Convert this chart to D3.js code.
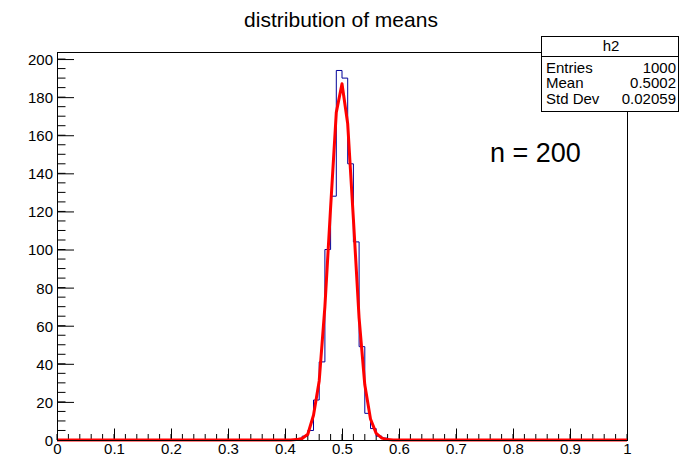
<!doctype html>
<html lang="en">
<head>
    <title>distribution of means</title>
    <script src="https://d3js.org/d3.v7.min.js"></script>
    <style type="text/css">
        body { margin: 0; background: #fff; }
        text { font-family: "Liberation Sans", Arial, sans-serif; }
    </style>
</head>
<body>
</body>
<script type="text/javascript">

    var width  = 680;
    var height = 457;

    // histogram h2: bin low edges (width 0.01) and counts, all other bins empty
    var binStarts = [0.43, 0.44, 0.45, 0.46, 0.47, 0.48, 0.49, 0.50, 0.51, 0.52, 0.53, 0.54, 0.55, 0.56, 0.57];
    var binCounts = [2, 5, 21, 41, 100, 128, 194, 190, 145, 104, 49, 14, 6, 2, 1];
    var binWidth = 0.01;

    // gaus fit curve
    var fitX = [0, 0.41, 0.42, 0.43, 0.44, 0.45, 0.46, 0.47, 0.48, 0.49, 0.50, 0.51, 0.52, 0.53, 0.54, 0.55, 0.56, 0.57, 0.58, 0.59, 1];
    var fitY = [0, 0, 0.2, 0.8, 3, 13, 31, 70, 122, 172, 187, 166, 116, 64, 29, 11, 3.5, 1, 0.2, 0, 0];

    var xTicks = [0, 0.1, 0.2, 0.3, 0.4, 0.5, 0.6, 0.7, 0.8, 0.9, 1];
    var yTicks = [0, 20, 40, 60, 80, 100, 120, 140, 160, 180, 200];

    var statsLabels = ["Entries", "Mean", "Std Dev"];
    var statsValues = ["1000", "0.5002", "0.02059"];

    var frame = {left: 57, right: 627, top: 52, bottom: 440};

    var x = d3.scaleLinear().domain([0, 1]).range([frame.left, frame.right]);
    var y = d3.scaleLinear().domain([0, 203.7]).range([frame.bottom, frame.top]);

    var svg = d3.select("body")
        .append("svg")
        .attr("width", width)
        .attr("height", height);

    // minor ticks
    var minorX = d3.range(0, 1.0001, 0.02);
    var minorY = d3.range(0, 201, 5);

    svg.append("g")
        .selectAll("line")
        .data(minorX)
        .enter()
        .append("line")
        .attr("x1", d => x(d)).attr("x2", d => x(d))
        .attr("y1", frame.bottom).attr("y2", frame.bottom - 6)
        .attr("stroke", "#000");

    svg.append("g")
        .selectAll("line")
        .data(minorY)
        .enter()
        .append("line")
        .attr("y1", d => y(d)).attr("y2", d => y(d))
        .attr("x1", frame.left).attr("x2", frame.left + 8.5)
        .attr("stroke", "#000");

    var xAxis = svg.append("g")
        .attr("transform", "translate(0," + frame.bottom + ")")
        .call(d3.axisBottom(x).tickValues(xTicks).tickSize(-11.5).tickPadding(3)
            .tickFormat(d3.format("")));

    var yAxis = svg.append("g")
        .attr("transform", "translate(" + frame.left + ",0)")
        .call(d3.axisLeft(y).tickValues(yTicks).tickSize(-17).tickPadding(4));

    [xAxis, yAxis].forEach(function(g) {
        g.select(".domain").remove();
        g.selectAll("text").attr("font-size", 15).attr("fill", "#000")
            .attr("font-family", "Liberation Sans, Arial, sans-serif");
        g.selectAll("line").attr("stroke", "#000");
    });
    yAxis.selectAll("text").attr("dy", "0.36em");

    // histogram outline
    var counts = d3.range(100).map(function(i) {
        var k = binStarts.findIndex(b => Math.abs(b - i * binWidth) < 1e-6);
        return k < 0 ? 0 : binCounts[k];
    });
    var pts = [[0, 0]];
    counts.forEach(function(c, i) {
        pts.push([i * binWidth, c]);
        pts.push([(i + 1) * binWidth, c]);
    });
    pts.push([1, 0]);

    svg.append("path")
        .datum(pts)
        .attr("fill", "none")
        .attr("stroke", "#000099")
        .attr("stroke-width", 1)
        .attr("d", d3.line().x(d => x(d[0])).y(d => y(d[1])));

    // fit
    svg.append("path")
        .datum(fitX.map((d, i) => [d, fitY[i]]))
        .attr("fill", "none")
        .attr("stroke", "#ff0000")
        .attr("stroke-width", 3)
        .attr("stroke-linejoin", "round")
        .attr("d", d3.line().x(d => x(d[0])).y(d => y(d[1])));

    // frame
    svg.append("rect")
        .attr("x", frame.left + 0.5).attr("y", frame.top + 0.5)
        .attr("width", frame.right - frame.left).attr("height", frame.bottom - frame.top)
        .attr("fill", "none")
        .attr("stroke", "#000");

    // title
    svg.append("text")
        .attr("x", 341).attr("y", 27)
        .attr("text-anchor", "middle")
        .attr("font-size", 21)
        .text("distribution of means");

    svg.append("text")
        .attr("x", 490).attr("y", 162)
        .attr("font-size", 27)
        .text("n = 200");

    // stats box
    var box = svg.append("g");
    box.append("rect")
        .attr("x", 541.5).attr("y", 36.5)
        .attr("width", 137).attr("height", 75)
        .attr("fill", "#fff").attr("stroke", "#000");
    box.append("line")
        .attr("x1", 541.5).attr("x2", 678.5)
        .attr("y1", 56.5).attr("y2", 56.5)
        .attr("stroke", "#000");
    box.append("text")
        .attr("x", 611).attr("y", 51)
        .attr("text-anchor", "middle")
        .attr("font-size", 15)
        .text("h2");
    box.selectAll(".lab")
        .data(statsLabels)
        .enter()
        .append("text")
        .attr("x", 546).attr("y", (d, i) => 72.5 + i * 15.7)
        .attr("font-size", 15)
        .text(d => d);
    box.selectAll(".val")
        .data(statsValues)
        .enter()
        .append("text")
        .attr("x", 676).attr("y", (d, i) => 72.5 + i * 15.7)
        .attr("text-anchor", "end")
        .attr("font-size", 15)
        .text(d => d);

</script>
</html>
